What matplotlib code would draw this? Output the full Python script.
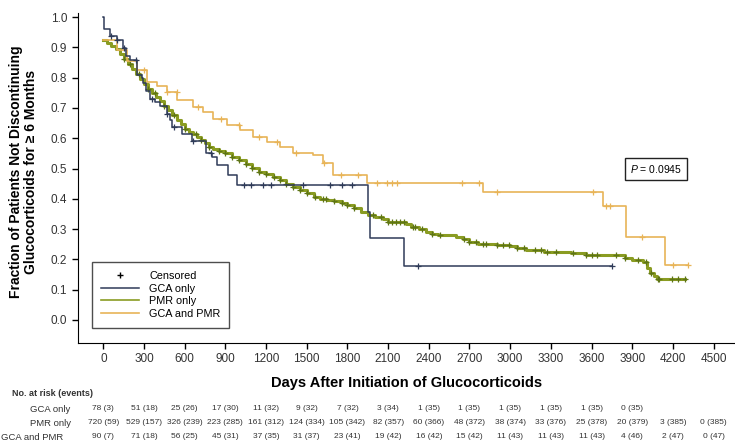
"""Kaplan-Meier style plot: time to glucocorticoid discontinuation."""

import numpy as np
import matplotlib
import matplotlib.pyplot as plt
import matplotlib.lines as mlines
from matplotlib.legend_handler import HandlerLine2D
matplotlib.use('Agg')

plt.rcParams['font.family'] = ['Liberation Sans', 'DejaVu Sans']
plt.rcParams['mathtext.fontset'] = 'custom'
plt.rcParams['mathtext.it'] = 'Liberation Sans:italic'
plt.rcParams['mathtext.rm'] = 'Liberation Sans'

# step curves: (day, fraction) knots, last entry = end of follow-up
gca_t = [0, 5, 50, 100, 145, 170, 200, 245, 283, 295, 315, 345, 380, 418, 467, 492,
         509, 578, 652, 755, 800, 836, 922, 984, 1950, 1965, 2217, 3754]
gca_s = [1.0, 0.962, 0.936, 0.923, 0.897, 0.872, 0.859, 0.81, 0.80, 0.782, 0.756, 0.73,
         0.718, 0.705, 0.68, 0.66, 0.637, 0.615, 0.59, 0.55, 0.538, 0.51, 0.478, 0.447,
         0.357, 0.269, 0.179, 0.179]
gca_cens = [60, 100, 150, 240, 360, 470, 520, 660, 795, 1040, 1090, 1175, 1236, 1475,
            1672, 1758, 1832, 2318, 3754]

pmr_t = [0, 30, 60, 90, 120, 150, 180, 210, 240, 270, 300, 330, 360, 390, 420, 450, 480,
         510, 540, 570, 600, 630, 660, 690, 720, 750, 780, 810, 850, 900, 950, 1000, 1050,
         1100, 1150, 1200, 1250, 1300, 1350, 1400, 1450, 1500, 1550, 1600, 1650, 1700,
         1760, 1800, 1850, 1900, 1950, 2000, 2060, 2100, 2230, 2270, 2330, 2380, 2420,
         2470, 2600, 2650, 2700, 2760, 2900, 3000, 3050, 3120, 3250, 3450, 3560, 3850,
         3900, 3980, 4010, 4030, 4060, 4080, 4290]
pmr_s = [0.925, 0.915, 0.905, 0.893, 0.878, 0.862, 0.845, 0.83, 0.812, 0.795, 0.778,
         0.762, 0.748, 0.735, 0.722, 0.708, 0.692, 0.676, 0.66, 0.646, 0.632, 0.622, 0.613,
         0.603, 0.594, 0.583, 0.572, 0.565, 0.557, 0.55, 0.538, 0.527, 0.515, 0.503, 0.49,
         0.482, 0.473, 0.463, 0.45, 0.44, 0.428, 0.42, 0.405, 0.399, 0.396, 0.392, 0.385,
         0.378, 0.37, 0.357, 0.348, 0.34, 0.332, 0.325, 0.318, 0.308, 0.30, 0.29, 0.283,
         0.28, 0.273, 0.268, 0.258, 0.252, 0.248, 0.244, 0.236, 0.23, 0.226, 0.22, 0.214,
         0.206, 0.198, 0.19, 0.17, 0.155, 0.145, 0.134, 0.134]
pmr_cens = [150, 200, 260, 330, 380, 450, 520, 600, 680, 720, 780, 850, 900, 950, 1000,
            1050, 1100, 1150, 1200, 1260, 1300, 1350, 1400, 1450, 1500, 1560, 1620, 1640,
            1700, 1760, 1800, 1850, 1990, 2050, 2100, 2130, 2160, 2190, 2220, 2280, 2300,
            2350, 2420, 2480, 2660, 2700, 2750, 2800, 2820, 2900, 2950, 2990, 3050, 3100,
            3180, 3230, 3270, 3340, 3460, 3560, 3600, 3640, 3780, 3850, 3940, 4000, 4040,
            4090, 4100, 4190, 4240, 4290]

both_t = [0, 100, 172, 246, 320, 394, 467, 541, 664, 738, 811, 910, 1008, 1106, 1205,
          1303, 1401, 1549, 1622, 1696, 1942, 2802, 3687, 3855, 4142, 4314]
both_s = [0.925, 0.89, 0.855, 0.824, 0.786, 0.771, 0.753, 0.725, 0.703, 0.687, 0.662,
          0.643, 0.626, 0.604, 0.588, 0.571, 0.55, 0.544, 0.517, 0.478, 0.453, 0.421,
          0.376, 0.273, 0.181, 0.181]
both_cens = [300, 470, 540, 700, 870, 1000, 1150, 1280, 1420, 1630, 1750, 1880, 2016,
             2090, 2127, 2163, 2643, 2771, 2906, 3614, 3707, 3737, 3970, 4199, 4314]

# number at risk (events) table
risk_days = [0, 300, 600, 900, 1200, 1500, 1800, 2100, 2400, 2700, 3000, 3300, 3600,
             3900, 4200, 4500]
gca_risk = ['78 (3)', '51 (18)', '25 (26)', '17 (30)', '11 (32)', '9 (32)', '7 (32)',
            '3 (34)', '1 (35)', '1 (35)', '1 (35)', '1 (35)', '1 (35)', '0 (35)']
pmr_risk = ['720 (59)', '529 (157)', '326 (239)', '223 (285)', '161 (312)', '124 (334)',
            '105 (342)', '82 (357)', '60 (366)', '48 (372)', '38 (374)', '33 (376)',
            '25 (378)', '20 (379)', '3 (385)', '0 (385)']
both_risk = ['90 (7)', '71 (18)', '56 (25)', '45 (31)', '37 (35)', '31 (37)', '23 (41)',
             '19 (42)', '16 (42)', '15 (42)', '11 (43)', '11 (43)', '11 (43)', '4 (46)',
             '2 (47)', '0 (47)']

GCA_COLOR = '#2f3b58'
PMR_COLOR = '#8a9c22'
PMR_MARK = '#5d7418'
BOTH_COLOR = '#e8b457'


class RightMarkerHandler(HandlerLine2D):
    """legend handle with the censor mark at the right end of the handle"""

    def get_xdata(self, legend, xdescent, ydescent, width, height, fontsize):
        xdata = np.array([-xdescent, -xdescent + width])
        return xdata, np.array([-xdescent + 0.97 * width])


def step_value(times, surv, t):
    idx = np.searchsorted(np.asarray(times), t, side='right') - 1
    return np.asarray(surv)[idx]


fig = plt.figure(figsize=(7.35, 4.42), dpi=100)
ax = fig.add_axes([0.1057, 0.2247, 0.8943, 0.747])

# thick PMR first, then the others on top
ax.step(pmr_t, pmr_s, where='post', color=PMR_COLOR, lw=2.2, zorder=2)
ax.plot(pmr_cens, step_value(pmr_t, pmr_s, pmr_cens), '+', color=PMR_MARK,
        ms=4, mew=0.9, zorder=3)
ax.step(both_t, both_s, where='post', color=BOTH_COLOR, lw=1.2, zorder=4)
ax.plot(both_cens, step_value(both_t, both_s, both_cens), '+', color=BOTH_COLOR,
        ms=5, mew=0.9, zorder=4)
ax.step(gca_t, gca_s, where='post', color=GCA_COLOR, lw=1.1, zorder=5)
ax.plot(gca_cens, step_value(gca_t, gca_s, gca_cens), '+', color=GCA_COLOR,
        ms=5, mew=0.9, zorder=5)

ax.set_xlim(-189, 4658)
ax.set_ylim(-0.075, 1.015)
ax.set_xticks(risk_days)
ax.set_yticks(np.arange(0, 1.01, 0.1))
ax.set_yticklabels(['%.1f' % v for v in np.arange(0, 1.01, 0.1)])
ax.tick_params(labelsize=8.5, labelcolor='#333333', length=4, direction='out', width=1)
ax.spines['top'].set_visible(False)
ax.spines['right'].set_visible(False)

# axis titles
fig.text(0.032, 1 - 172 / 442, 'Fraction of Patients Not Discontinuing\nGlucocorticoids for \u2265 6 Months',
         rotation=90, ha='center', va='center', fontsize=10, weight='bold', linespacing=1.1)
fig.text(0.553, 1 - 383 / 442, 'Days After Initiation of Glucocorticoids',
         ha='center', va='center', fontsize=10.5, weight='bold')

# legend
censor_handle = mlines.Line2D([], [], color='k', marker='+', linestyle='None', ms=5,
                              label='Censored')
handles = [censor_handle,
           mlines.Line2D([], [], color=GCA_COLOR, lw=1.1, label='GCA only'),
           mlines.Line2D([], [], color=PMR_COLOR, lw=1.2, label='PMR only'),
           mlines.Line2D([], [], color=BOTH_COLOR, lw=1.2, label='GCA and PMR')]
leg = ax.legend(handles=handles, loc='lower left', bbox_to_anchor=(0.022, 0.044),
                fontsize=7.8, frameon=True, fancybox=False, handlelength=3.5,
                labelspacing=0.25, borderpad=0.85, handletextpad=0.9, borderaxespad=0,
                handler_map={censor_handle: RightMarkerHandler()})
leg.get_frame().set_edgecolor('#222222')
leg.get_frame().set_linewidth(1.0)

# p value box
ax.text(4076, 0.498, r'$P$ = 0.0945', ha='center', va='center', fontsize=7.5,
        bbox=dict(boxstyle='square,pad=0.45', fc='white', ec='#222222', lw=1.0))

# number at risk table
fig.text(12 / 735, 1 - 394 / 442, 'No. at risk (events)', fontsize=6.5, weight='bold',
         color='#333333', va='center')
rows = [('GCA only', gca_risk, 30, 409), ('PMR only', pmr_risk, 30, 423),
        ('GCA and PMR', both_risk, 1, 437)]
for name, vals, xpx, ypx in rows:
    fig.text(xpx / 735, 1 - ypx / 442, name, fontsize=6.8, color='#333333', va='center')
    for day, val in zip(risk_days, vals):
        xfig = fig.transFigure.inverted().transform(ax.transData.transform((day, 0)))[0]
        fig.text(xfig, 1 - ypx / 442, val, fontsize=6, color='#333333',
                 ha='center', va='center')

plt.savefig('out.png', dpi=100)
